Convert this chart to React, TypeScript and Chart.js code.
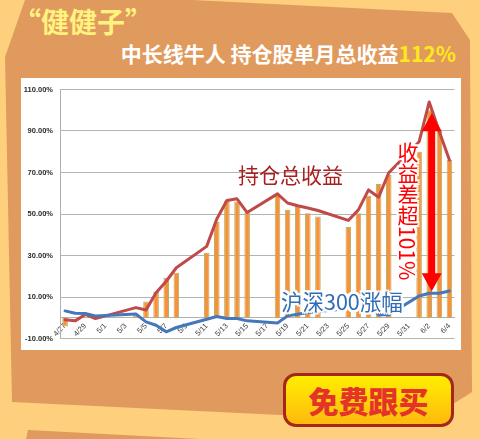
import React, { useEffect, useRef } from "react";
import { Chart, registerables } from "chart.js";

Chart.register(...registerables);

// Calendar days shown on the category axis (labels shown every other day)
const dates = [
  "4/27", "4/28", "4/29", "4/30",
  "5/1", "5/2", "5/3", "5/4", "5/5", "5/6", "5/7", "5/8", "5/9", "5/10",
  "5/11", "5/12", "5/13", "5/14", "5/15", "5/16", "5/17", "5/18", "5/19", "5/20",
  "5/21", "5/22", "5/23", "5/24", "5/25", "5/26", "5/27", "5/28", "5/29", "5/30", "5/31",
  "6/1", "6/2", "6/3", "6/4",
];

// Orange bars (%), null on non-trading days
const holdingBars = [
  -4.2, null, null, null,
  null, null, null, 1.0, 7.8, 12.6, 19.3, 21.7, null, null,
  31.3, 46.1, 56.5, 56.0, 50.7, null, null, 59.7, 52.0, 54.0,
  50.4, 48.8, null, null, 43.7, 50.4, 58.8, 64.5, 68.8, null, null,
  80.0, 100.0, 90.4, 76.0,
];

// 持仓总收益 (red line, %)
const holdingTotal = [
  -1.0, -1.5, 1.6, -0.4,
  null, null, null, 4.9, 3.7, 12.1, 17.6, 24.1, null, null,
  34.4, 47.6, 56.5, 57.3, 50.7, null, null, 59.7, 55.3, 54.0,
  52.9, 51.7, null, null, 46.9, 52.0, 61.6, 58.1, 69.9, null, null,
  84.8, 104.0, 89.6, 76.0,
];

// 沪深300涨幅 (blue line, %)
const csi300 = [
  3.3, 2.2, 2.1, 0.9,
  null, null, null, 1.8, -2.0, -3.6, -6.8, -4.7, null, null,
  -0.7, 0.6, -0.4, -0.4, -1.5, null, null, -2.5, 0.9, 1.7,
  2.5, 3.0, null, null, 4.5, 6.0, 6.5, 1.5, 1.5, null, null,
  10.5, 11.8, 11.8, 12.9,
];

const yTicks = [-10, 10, 30, 50, 70, 90, 110];

// double arrow showing the gap (category index, top value, bottom value)
const arrowIndex = 36;
const arrowTopValue = 98.5;
const arrowBottomValue = 12.8;

const cjk = '"Noto Sans CJK SC", "Noto Sans", sans-serif';

const outline =
  "-2px -2px 0 #fff, 2px -2px 0 #fff, -2px 2px 0 #fff, 2px 2px 0 #fff, 0 2px 0 #fff, 0 -2px 0 #fff, 2px 0 0 #fff, -2px 0 0 #fff";

export default function App() {
  const ref = useRef<HTMLCanvasElement>(null);

  useEffect(() => {
    const arrowPlugin = {
      id: "gapArrow",
      afterDatasetsDraw(chart: any) {
        const { ctx, scales } = chart;
        const x = scales.x.getPixelForValue(arrowIndex) + 2.5;
        const y1 = scales.y.getPixelForValue(arrowTopValue);
        const y2 = scales.y.getPixelForValue(arrowBottomValue);
        const head = 18;
        const hw = 10;
        const sw = 3.5;
        ctx.save();
        ctx.fillStyle = "#FF0000";
        ctx.beginPath();
        ctx.moveTo(x, y1);
        ctx.lineTo(x + hw, y1 + head);
        ctx.lineTo(x + sw, y1 + head);
        ctx.lineTo(x + sw, y2 - head);
        ctx.lineTo(x + hw, y2 - head);
        ctx.lineTo(x, y2);
        ctx.lineTo(x - hw, y2 - head);
        ctx.lineTo(x - sw, y2 - head);
        ctx.lineTo(x - sw, y1 + head);
        ctx.lineTo(x - hw, y1 + head);
        ctx.closePath();
        ctx.fill();
        ctx.restore();
      },
    };

    const chart = new Chart(ref.current as HTMLCanvasElement, {
      type: "bar",
      data: {
        labels: dates,
        datasets: [
          {
            type: "line",
            label: "沪深300涨幅",
            data: csi300,
            borderColor: "#4577BB",
            borderWidth: 3,
            pointRadius: 0,
            spanGaps: true,
            tension: 0,
            borderJoinStyle: "round",
            borderCapStyle: "round",
            order: 1,
          } as any,
          {
            type: "line",
            label: "持仓总收益",
            data: holdingTotal,
            borderColor: "#BE4B48",
            borderWidth: 3,
            pointRadius: 0,
            spanGaps: true,
            tension: 0,
            borderJoinStyle: "round",
            borderCapStyle: "round",
            order: 2,
          } as any,
          {
            type: "bar",
            label: "持仓股收益",
            data: holdingBars,
            backgroundColor: "#F7923A",
            borderColor: "#B5B06A",
            borderWidth: 1,
            barPercentage: 0.55,
            categoryPercentage: 1,
            order: 3,
          } as any,
        ],
      },
      options: {
        animation: false,
        responsive: false,
        layout: { padding: { top: 11, bottom: 11, left: 0, right: 6.5 } },
        plugins: { legend: { display: false }, tooltip: { enabled: false } },
        scales: {
          x: {
            type: "category",
            position: { y: 0 } as any,
            grid: { display: false, drawTicks: false },
            border: { display: true, color: "#B0B0B0", width: 1 },
            ticks: {
              autoSkip: false,
              minRotation: 45,
              maxRotation: 45,
              padding: 4,
              color: "#404040",
              font: { family: '"Liberation Sans", Arial, sans-serif', size: 7.5 },
              callback: (_v: any, i: number) => (i % 2 === 0 ? dates[i] : ""),
            },
          },
          y: {
            type: "linear",
            min: -10,
            max: 110,
            afterBuildTicks: (s: any) => {
              s.ticks = yTicks.map((v) => ({ value: v }));
            },
            afterFit: (s: any) => {
              s.width = 39;
            },
            grid: { color: "#B4B4B4", lineWidth: 1, drawTicks: false },
            border: { display: true, color: "#B0B0B0", width: 1 },
            ticks: {
              padding: 7,
              color: "#2A2A2A",
              font: { family: '"Liberation Sans", Arial, sans-serif', size: 7.5, weight: "bold" },
              callback: (v: any) => Number(v).toFixed(2) + "%",
            },
          },
        },
      },
      plugins: [arrowPlugin],
    } as any);
    return () => chart.destroy();
  }, []);

  return (
    <div
      style={{
        position: "absolute",
        left: 0,
        top: 0,
        width: 480,
        height: 439,
        overflow: "hidden",
        background: "#FED07E",
        fontFamily: cjk,
      }}
    >
      <svg width={480} height={439} style={{ position: "absolute", left: 0, top: 0 }}>
        <polygon
          points="25,0 193,0 452,13 470,40 472,392 425,422 12,402 5,57"
          fill="#E19A5D"
        />
        <polygon points="28,430 200,439 26,439" fill="#E19A5D" />
      </svg>

      <div
        style={{
          position: "absolute",
          left: 13,
          top: 7,
          fontSize: 28,
          lineHeight: 1,
          fontWeight: 700,
          color: "#FFF27F",
          whiteSpace: "nowrap",
        }}
      >
        “健健子”
      </div>

      <div
        style={{
          position: "absolute",
          right: 24,
          top: 43,
          fontSize: 21,
          lineHeight: 1,
          fontWeight: 700,
          color: "#FFFFFF",
          whiteSpace: "nowrap",
        }}
      >
        中长线牛人 持仓股单月总收益<span style={{ color: "#FFE81C" }}>112%</span>
      </div>

      <div
        style={{
          position: "absolute",
          left: 21,
          top: 78,
          width: 440,
          height: 272,
          background: "#FFFFFF",
        }}
      >
        <canvas ref={ref} width={440} height={272} style={{ display: "block" }} />
      </div>

      <div
        style={{
          position: "absolute",
          left: 238,
          top: 164,
          fontSize: 21,
          lineHeight: 1,
          color: "#A81F1F",
          whiteSpace: "nowrap",
        }}
      >
        持仓总收益
      </div>

      <div
        style={{
          position: "absolute",
          left: 397,
          top: 142,
          fontSize: 21,
          lineHeight: 1,
          color: "#FF0000",
          writingMode: "vertical-rl",
          whiteSpace: "nowrap",
          textShadow: outline,
        }}
      >
        收益差超101%
      </div>

      <div
        style={{
          position: "absolute",
          left: 281,
          top: 290,
          fontSize: 21.5,
          lineHeight: 1,
          color: "#2F6DB5",
          whiteSpace: "nowrap",
          textShadow: outline,
        }}
      >
        沪深300涨幅
      </div>

      <div
        style={{
          position: "absolute",
          left: 283,
          top: 373,
          width: 171,
          height: 54,
          boxSizing: "border-box",
          border: "3px solid #A3281B",
          borderRadius: 13,
          background: "linear-gradient(#FFEE00, #FFB90F)",
          display: "flex",
          alignItems: "center",
          justifyContent: "center",
          fontSize: 30,
          fontWeight: 900,
          color: "#E5332A",
          whiteSpace: "nowrap",
          lineHeight: 1,
        }}
      >
        免费跟买
      </div>
    </div>
  );
}
